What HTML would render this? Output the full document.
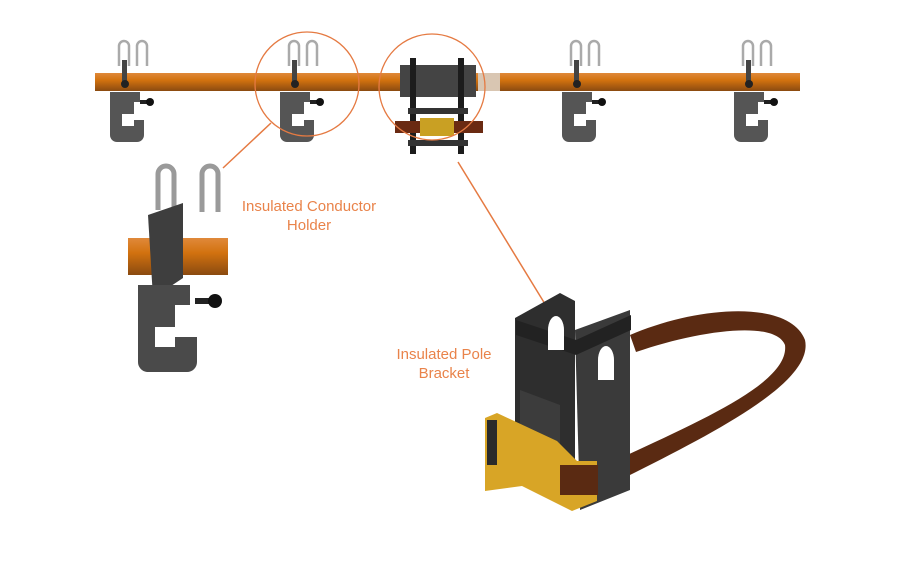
<!DOCTYPE html>
<html><head><meta charset="utf-8"><style>
html,body{margin:0;padding:0;background:#fff;width:900px;height:563px;overflow:hidden}
svg{display:block}
text{font-family:"Liberation Sans",sans-serif;font-size:15px;fill:#e9834a}
</style></head><body>
<svg width="900" height="563" viewBox="0 0 900 563">
<defs>
<linearGradient id="pipe" x1="0" y1="0" x2="0" y2="1">
<stop offset="0" stop-color="#e0893a"/><stop offset="0.4" stop-color="#d2720f"/><stop offset="1" stop-color="#8a4a10"/>
</linearGradient>
<g id="holder">
<path d="M-9,-20 v-20 a5,5 0 0 1 10,0 v20" fill="none" stroke="#aaa" stroke-width="2.5"/>
<path d="M9,-20 v-20 a5,5 0 0 1 10,0 v20" fill="none" stroke="#aaa" stroke-width="2.5"/>
<rect x="-6" y="-26" width="5" height="26" fill="#444"/>
<circle cx="-3" cy="-2" r="4" fill="#222"/>
<path d="M-18,6 h30 v10 h-6 v12 h-12 v12 h12 v-6 h10 v15 a7,7 0 0 1 -7,7 h-20 a7,7 0 0 1 -7,-7z" fill="#555"/>
<rect x="12" y="14" width="8" height="4" fill="#222"/><circle cx="22" cy="16" r="4" fill="#111"/>
</g>
</defs>
<rect x="95" y="73" width="705" height="18" fill="url(#pipe)"/>
<rect x="478" y="73" width="22" height="18" fill="#d9c6b2"/>
<use href="#holder" x="128" y="86"/>
<use href="#holder" x="298" y="86"/>
<use href="#holder" x="580" y="86"/>
<use href="#holder" x="752" y="86"/>
<rect x="400" y="65" width="76" height="32" fill="#444"/>
<rect x="410" y="58" width="6" height="96" fill="#1c1c1c"/>
<rect x="458" y="58" width="6" height="96" fill="#1c1c1c"/>
<rect x="408" y="108" width="60" height="6" fill="#333"/>
<rect x="408" y="140" width="60" height="6" fill="#333"/>
<rect x="395" y="121" width="88" height="12" fill="#6a2a12"/>
<rect x="420" y="118" width="34" height="18" fill="#c9a023"/>
<circle cx="307" cy="84" r="52" fill="none" stroke="#e57a42" stroke-width="1.3"/>
<circle cx="432" cy="87" r="53" fill="none" stroke="#e57a42" stroke-width="1.3"/>
<line x1="271" y1="123" x2="223" y2="168" stroke="#e57a42" stroke-width="1.5"/>
<line x1="458" y1="162" x2="545" y2="304" stroke="#e57a42" stroke-width="1.5"/>
<!-- large holder -->
<path d="M158,210 v-36 a8,8 0 0 1 16,0 v36" fill="none" stroke="#9a9a9a" stroke-width="5"/>
<path d="M202,212 v-38 a8,8 0 0 1 16,0 v38" fill="none" stroke="#9a9a9a" stroke-width="5"/>
<rect x="128" y="238" width="100" height="37" fill="url(#pipe)"/>
<path d="M148,215 l35,-12 v75 l-30,20 z" fill="#3e3e3e"/>
<path d="M138,285 h52 v20 h-15 v22 h-20 v20 h20 v-10 h22 v25 a10,10 0 0 1 -10,10 h-40 a10,10 0 0 1 -9,-10z" fill="#4a4a4a"/>
<rect x="195" y="298" width="16" height="6" fill="#222"/><circle cx="215" cy="301" r="7" fill="#111"/>
<!-- large bracket -->
<path d="M630,335 C700,305 790,300 805,340 C815,385 700,440 600,490 L595,470 C690,425 790,385 785,345 C775,320 700,330 636,352z" fill="#5a2a12"/>
<path d="M515,318 l45,-25 l15,8 v160 l-20,20 v20 l-40,-20z" fill="#2e2e2e"/>
<path d="M575,330 l55,-20 v180 l-50,20 z" fill="#3a3a3a"/>
<path d="M516,320 l60,20 l55,-25 v15 l-55,25 l-60,-20z" fill="#222"/>
<path d="M520,390 l40,15 v70 l-40,-15z" fill="#3c3c3c"/>
<path d="M598,360 a8,14 0 0 1 16,0 v20 h-16z" fill="#fff"/>
<path d="M548,330 a8,14 0 0 1 16,0 v20 h-16z" fill="#fff"/>
<path d="M485,418 l12,-5 l60,28 l20,20 h20 v40 l-25,10 l-50,-25 l-37,5 z" fill="#d8a526"/>
<rect x="487" y="420" width="10" height="45" fill="#2a2a2a"/>
<path d="M560,465 h38 v30 h-38z" fill="#5a2a12"/>
<text x="309" y="211" text-anchor="middle">Insulated Conductor</text>
<text x="309" y="230" text-anchor="middle">Holder</text>
<text x="444" y="359" text-anchor="middle">Insulated Pole</text>
<text x="444" y="378" text-anchor="middle">Bracket</text>
</svg>
</body></html>
